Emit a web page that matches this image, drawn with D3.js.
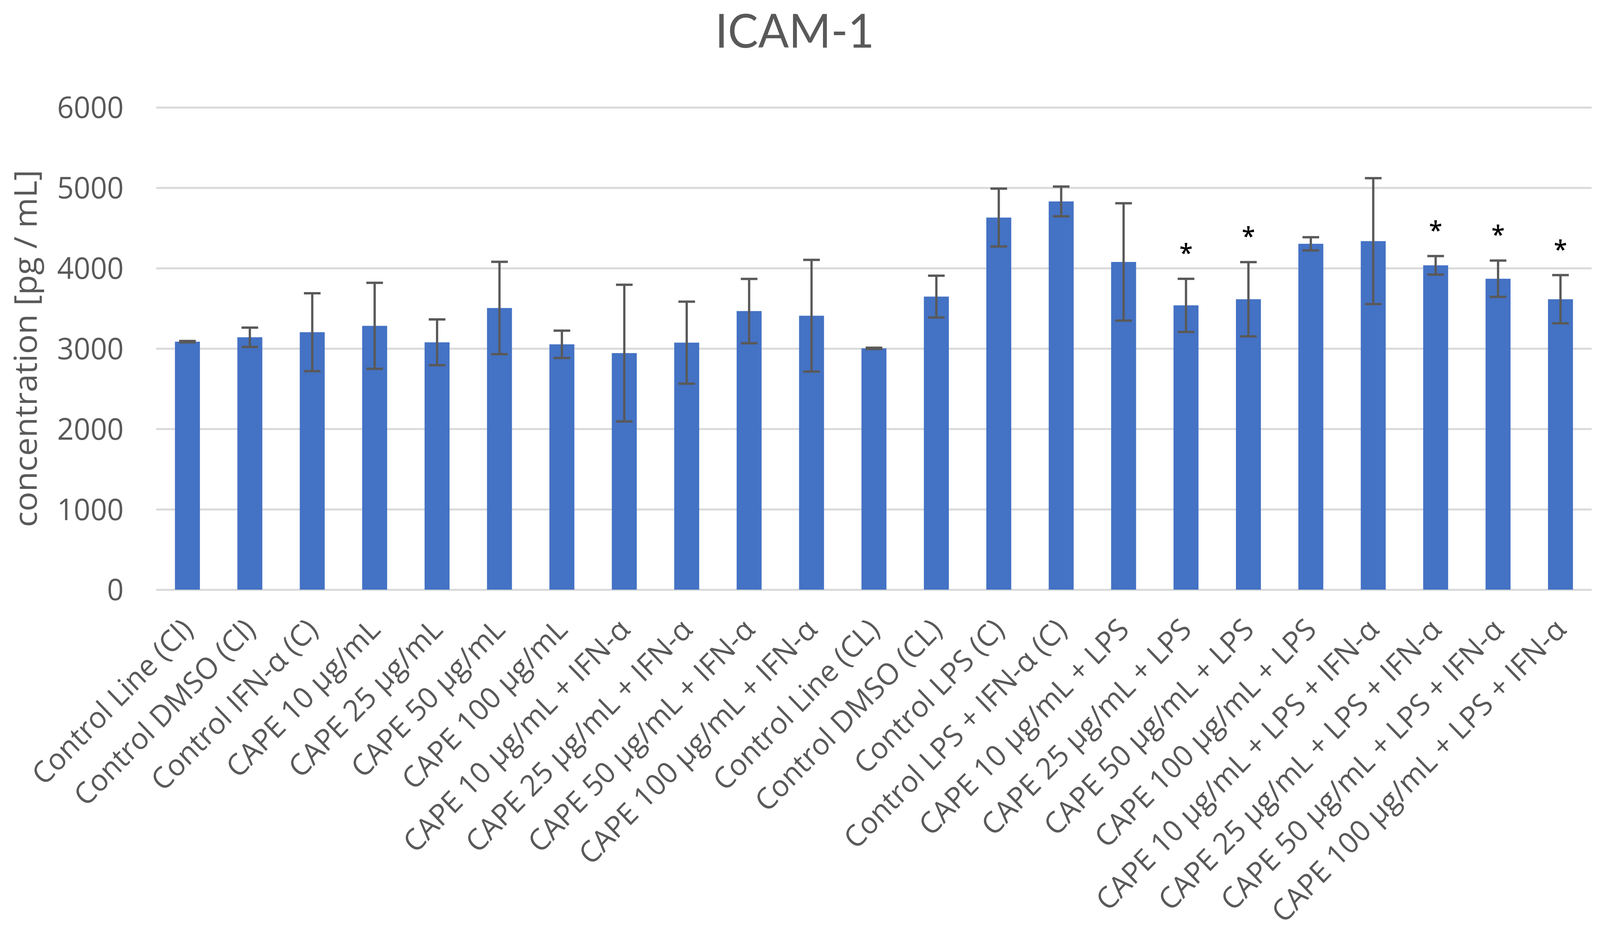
<!DOCTYPE html>
<html>
<head>
<meta charset="utf-8">
<script src="https://cdn.jsdelivr.net/npm/d3@7"></script>
<style>
  html, body { margin: 0; padding: 0; background: #ffffff; width: 100%; height: 100%; overflow: hidden; }
  svg { display: block; width: 100vw; height: 100vh; }
</style>
</head>
<body>
<script>
const categories = [
  "Control Line (Cl)", "Control DMSO (Cl)", "Control IFN-α (C)",
  "CAPE 10 µg/mL", "CAPE 25 µg/mL", "CAPE 50 µg/mL", "CAPE 100 µg/mL",
  "CAPE 10 µg/mL + IFN-α", "CAPE 25 µg/mL + IFN-α", "CAPE 50 µg/mL + IFN-α", "CAPE 100 µg/mL + IFN-α",
  "Control Line (CL)", "Control DMSO (CL)", "Control LPS (C)", "Control LPS + IFN-α (C)",
  "CAPE 10 µg/mL + LPS", "CAPE 25 µg/mL + LPS", "CAPE 50 µg/mL + LPS", "CAPE 100 µg/mL + LPS",
  "CAPE 10 µg/mL + LPS + IFN-α", "CAPE 25 µg/mL + LPS + IFN-α", "CAPE 50 µg/mL + LPS + IFN-α", "CAPE 100 µg/mL + LPS + IFN-α"
];
const values = [3085, 3140, 3203, 3282, 3077, 3504, 3052, 2943, 3073, 3466, 3408, 3002, 3646, 4629, 4830, 4077, 3537, 3613, 4303, 4336, 4035, 3868, 3613];
const errors = [8, 120, 485, 535, 285, 575, 170, 850, 510, 400, 695, 8, 260, 360, 185, 730, 330, 462, 82, 783, 115, 226, 300];
const significant = [false, false, false, false, false, false, false, false, false, false, false, false, false, false, false, false, true, true, false, false, true, true, true];
const yTicks = [0, 1000, 2000, 3000, 4000, 5000, 6000];
const titleText = "ICAM-1";
const yAxisTitle = "concentration [pg / mL]";

const W = 4230, H = 2397;
const margin = { left: 413, right: 22, top: 275, bottom: 887 };
const textColor = "#595959";
const font = "'Open Sans', 'Noto Sans', sans-serif";

const svg = d3.select("body").append("svg")
  .attr("viewBox", `0 0 ${W} ${H}`)
  .attr("preserveAspectRatio", "none");
svg.append("rect").attr("width", W).attr("height", H).attr("fill", "#ffffff");

const x = d3.scaleBand().domain(categories)
  .range([margin.left, W - margin.right])
  .paddingInner(0.6).paddingOuter(0.3);
const y = d3.scaleLinear().domain([0, 6000]).range([H - margin.bottom, margin.top]);

// gridlines + tick labels
const yAxis = d3.axisLeft(y).tickValues(yTicks).tickSize(-(W - margin.right - margin.left)).tickPadding(86).tickFormat(d3.format("d"));
const gy = svg.append("g").attr("transform", `translate(${margin.left},0)`).call(yAxis);
gy.select(".domain").remove();
gy.selectAll(".tick line").attr("stroke", "#d9d9d9").attr("stroke-width", 5);
gy.selectAll(".tick text")
  .attr("fill", textColor).attr("font-family", font).attr("font-size", 77)
  .attr("dy", "0.35em");

// bars
svg.append("g").selectAll("rect").data(categories).join("rect")
  .attr("x", d => x(d))
  .attr("width", x.bandwidth())
  .attr("y", (d, i) => y(values[i]))
  .attr("height", (d, i) => y(0) - y(values[i]))
  .attr("fill", "#4472c4");

// error bars
const eb = svg.append("g").attr("stroke", "#595959").attr("stroke-width", 6).attr("fill", "none");
const capHalf = 22;
categories.forEach((c, i) => {
  const cx = x(c) + x.bandwidth() / 2;
  const hi = y(values[i] + errors[i]), lo = y(values[i] - errors[i]);
  eb.append("line").attr("x1", cx).attr("x2", cx).attr("y1", hi).attr("y2", lo);
  eb.append("line").attr("x1", cx - capHalf).attr("x2", cx + capHalf).attr("y1", hi).attr("y2", hi);
  eb.append("line").attr("x1", cx - capHalf).attr("x2", cx + capHalf).attr("y1", lo).attr("y2", lo);
});

// significance stars
svg.append("g").selectAll("text").data(categories.filter((c, i) => significant[i])).join("text")
  .attr("x", c => x(c) + x.bandwidth() / 2)
  .attr("y", c => { const i = categories.indexOf(c); return y(values[i] + errors[i]) - 44; })
  .attr("text-anchor", "middle")
  .attr("font-family", font).attr("font-size", 64).attr("font-weight", 600).attr("fill", "#000000")
  .text("*");

// x labels
svg.append("g").selectAll("text").data(categories).join("text")
  .attr("transform", c => `translate(${x(c) + x.bandwidth() / 2},${y(0) + 88}) rotate(-45)`)
  .attr("text-anchor", "end")
  .attr("dy", "0.35em")
  .attr("font-family", font).attr("font-size", 76).attr("fill", textColor)
  .text(c => c);

// y axis title
svg.append("text")
  .attr("transform", `translate(97,${(y(0) + y(6000)) / 2}) rotate(-90)`)
  .attr("text-anchor", "middle")
  .attr("font-family", font).attr("font-size", 84).attr("fill", textColor)
  .text(yAxisTitle);

// chart title
svg.append("text")
  .attr("x", 2101).attr("y", 122)
  .attr("text-anchor", "middle")
  .attr("font-family", "Lato, 'Open Sans', sans-serif").attr("font-size", 120).attr("fill", textColor)
  .text(titleText);
</script>
</body>
</html>
